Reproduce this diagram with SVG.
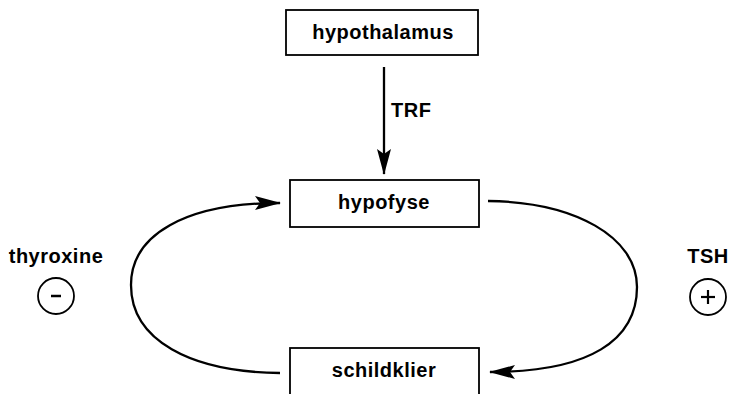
<svg xmlns="http://www.w3.org/2000/svg" width="729" height="394" viewBox="0 0 729 394">
<defs>
<marker id="ah" markerUnits="userSpaceOnUse" markerWidth="26" markerHeight="14" refX="25" refY="7" orient="auto" viewBox="0 0 26 14">
<path d="M0,0 L26,7 L0,14 L5,7 z" fill="#000"/>
</marker>
<style>
.box{fill:#fff;stroke:#000;stroke-width:1.8}
.t{font-family:"Liberation Sans",Arial,sans-serif;font-weight:bold;font-size:20px;letter-spacing:0.5px;fill:#000}
.c{stroke:#000;stroke-width:2.3;fill:none}
.sym{fill:none;stroke:#000;stroke-width:1.8}
</style>
</defs>
<rect width="729" height="394" fill="#fff"/>
<g id="connectors">
<line class="c" x1="384" y1="67" x2="384" y2="174" marker-end="url(#ah)"/>
<path class="c" d="M280,373 C190,372 131,340 131,285 C131,235 185,203 280,203" marker-end="url(#ah)"/>
<path class="c" d="M488,201 C575,202 637,237 637,287 C637,340 590,372 490,372" marker-end="url(#ah)"/>
<text class="t" x="391" y="117">TRF</text>
</g>
<g id="hypothalamus">
<rect class="box" x="286" y="10" width="192" height="45"/>
<text class="t" x="383" y="39" text-anchor="middle">hypothalamus</text>
</g>
<g id="hypofyse">
<rect class="box" x="290" y="180" width="189" height="47"/>
<text class="t" x="384" y="209" text-anchor="middle">hypofyse</text>
</g>
<g id="schildklier">
<rect class="box" x="290" y="348" width="189" height="60"/>
<text class="t" x="384" y="377" text-anchor="middle">schildklier</text>
</g>
<g id="thyroxine">
<text class="t" x="56" y="263" text-anchor="middle">thyroxine</text>
<circle class="sym" cx="56" cy="296" r="18"/>
<line x1="51" y1="296" x2="61" y2="296" stroke="#000" stroke-width="2.5"/>
</g>
<g id="TSH">
<text class="t" x="708" y="263" text-anchor="middle">TSH</text>
<circle class="sym" cx="708" cy="297" r="18"/>
<line x1="701" y1="297" x2="715" y2="297" stroke="#000" stroke-width="2.2"/>
<line x1="708" y1="290" x2="708" y2="304" stroke="#000" stroke-width="2.2"/>
</g>
</svg>
